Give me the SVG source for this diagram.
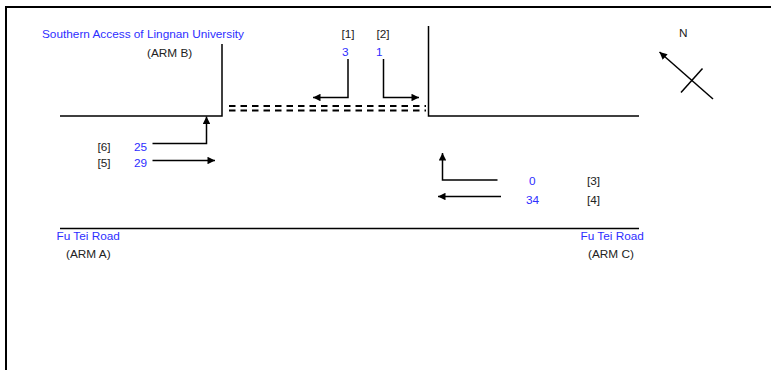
<svg xmlns="http://www.w3.org/2000/svg" width="771" height="370" viewBox="0 0 771 370">
<defs>
<marker id="ah" viewBox="0 0 10 10" refX="10" refY="5" markerWidth="8" markerHeight="7.5" markerUnits="userSpaceOnUse" orient="auto">
<path d="M0,0 L10,5 L0,10 z" fill="#000"/>
</marker>
<style>
text{font-family:"Liberation Sans",Arial,sans-serif;font-size:11.8px}
.b{fill:#2e2eff}
.k{fill:#222}
.road{stroke:#000;stroke-width:1.5;fill:none}
.arr{stroke:#000;stroke-width:1.5;fill:none;marker-end:url(#ah)}
.dash{stroke:#000;stroke-width:2;stroke-dasharray:6.5 5}
</style>
</defs>
<rect width="771" height="370" fill="#fff"/>
<path d="M6,380 V7 H780" fill="none" stroke="#000" stroke-width="2"/>

<g id="roads">
<path class="road" d="M60,116 H222 V44"/>
<path class="road" d="M428.5,26 V116 H639"/>
<path class="road" d="M60,228.5 H639"/>
<line class="dash" x1="229" y1="106" x2="426" y2="106"/>
<line class="dash" x1="229" y1="110.5" x2="426" y2="110.5"/>
</g>

<g id="labels">
<text class="b" x="42" y="37.5">Southern Access of Lingnan University</text>
<text class="k" x="147" y="56.5">(ARM B)</text>
<text class="b" x="56.5" y="239.5">Fu Tei Road</text>
<text class="k" x="66" y="258">(ARM A)</text>
<text class="b" x="580.5" y="239.5">Fu Tei Road</text>
<text class="k" x="588" y="258">(ARM C)</text>
<text class="k" x="679" y="36.5">N</text>
</g>

<g id="north">
<line class="arr" x1="713" y1="99" x2="659.5" y2="52"/>
<line x1="681" y1="92.5" x2="702.5" y2="68.5" stroke="#000" stroke-width="1.5"/>
</g>

<g id="movement-1">
<text class="k" x="341.5" y="37.5">[1]</text>
<text class="b" x="342" y="55.5">3</text>
<path class="arr" d="M348,59 V97.5 H313"/>
</g>
<g id="movement-2">
<text class="k" x="376.5" y="37.5">[2]</text>
<text class="b" x="376" y="55.5">1</text>
<path class="arr" d="M383.5,59 V97.5 H419"/>
</g>
<g id="movement-6">
<text class="k" x="97.5" y="150.5">[6]</text>
<text class="b" x="134" y="150.5">25</text>
<path class="arr" d="M152.5,143.5 H206.5 V116.5"/>
</g>
<g id="movement-5">
<text class="k" x="97.5" y="167">[5]</text>
<text class="b" x="134" y="167">29</text>
<path class="arr" d="M152.5,160.5 H215"/>
</g>
<g id="movement-3">
<text class="b" x="529" y="185">0</text>
<text class="k" x="587" y="185">[3]</text>
<path class="arr" d="M497.5,180 H442.5 V153"/>
</g>
<g id="movement-4">
<text class="b" x="526" y="203.5">34</text>
<text class="k" x="587" y="203.5">[4]</text>
<path class="arr" d="M501,196.5 H438"/>
</g>
</svg>
